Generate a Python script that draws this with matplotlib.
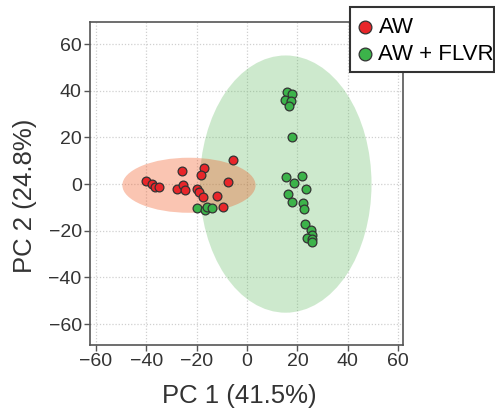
#PCA score plot: AW vs AW + FLVR with group ellipses.

import matplotlib
matplotlib.use("Agg")
import matplotlib.pyplot as plt
from matplotlib.patches import Ellipse, Rectangle

#Font settings.
plt.rcParams['font.family'] = ['Liberation Sans', 'DejaVu Sans']

#Scores for the AW group (PC1, PC2).
aw_pc1 = [-40.3, -37.7, -36.6, -35.0, -25.8, -27.8, -25.4, -24.6, -17.2,
          -18.5, -19.8, -19.2, -17.5, -11.9, -9.5, -7.7, -5.8]
aw_pc2 = [1.4, -0.1, -1.1, -1.4, 5.6, -1.9, -0.4, -2.4, 7.0,
          4.0, -2.3, -3.6, -5.7, -5.3, -9.9, 0.7, 10.4]

#Scores for the AW + FLVR group (PC1, PC2).
flvr_pc1 = [15.9, 17.7, 15.0, 17.3, 16.8, 18.0, 15.5, 21.6, 18.7, 23.4,
            16.3, 18.0, 22.1, 22.5, 23.0, 25.2, 25.6, 23.6, 25.6, 25.8,
            -20.1, -16.9, -15.9, -14.0]
flvr_pc2 = [39.5, 38.5, 36.0, 35.8, 33.3, 20.2, 3.0, 3.6, 0.4, -2.3,
            -4.4, -7.6, -7.9, -10.6, -17.3, -19.9, -21.9, -23.0, -23.6, -24.9,
            -10.2, -10.9, -9.7, -10.2]

#Ellipses: center x, center y, width, height.
aw_ell = [-23.1, -0.5, 52.9, 23.6]
flvr_ell = [15.3, 0.0, 68.2, 110.3]

ticks = [-60, -40, -20, 0, 20, 40, 60]
tick_labels = ["\u221260", "\u221240", "\u221220", "0", "20", "40", "60"]

fig = plt.figure(figsize=(4.95, 4.13), dpi=100)
ax = fig.add_axes([90/495, 1 - 345/413, 313/495, 323/413])

#Group ellipses.
ax.add_patch(Ellipse((flvr_ell[0], flvr_ell[1]), flvr_ell[2], flvr_ell[3],
                     facecolor='#5cb85c', alpha=0.3, edgecolor='none', zorder=1))
ax.add_patch(Ellipse((aw_ell[0], aw_ell[1]), aw_ell[2], aw_ell[3],
                     facecolor='#f15a24', alpha=0.35, edgecolor='none', zorder=1.5))

#Points.
ax.scatter(aw_pc1, aw_pc2, s=40, c='#e8262a', edgecolors='#333333',
           linewidths=0.9, zorder=3, label='AW')
ax.scatter(flvr_pc1, flvr_pc2, s=40, c='#3cb34a', edgecolors='#333333',
           linewidths=0.9, zorder=3, label='AW + FLVR')

#Axes limits and ticks.
ax.set_xlim(-62.4, 61.9)
ax.set_ylim(-69, 69.5)
ax.set_xticks(ticks)
ax.set_xticklabels(tick_labels)
ax.set_yticks(ticks)
ax.set_yticklabels(tick_labels)
ax.tick_params(direction='out', length=4, width=1, color='#555555',
               labelsize=14, labelcolor='#333333', pad=2)
for sp in ax.spines.values():
    sp.set_color('#555555')
    sp.set_linewidth(1.2)

#Grid.
ax.grid(True, linestyle=(0, (1, 1.5)), color='#d0d0d0', linewidth=0.9)
ax.set_axisbelow(True)

#Axis labels, placed as in the original figure.
fig.text(239.5/495, 1 - 396.5/413, "PC 1 (41.5%)", fontsize=18.5,
         color='#333333', ha='center', va='center')
fig.text(25.5/495, 1 - 195.5/413, "PC 2 (24.8%)", fontsize=18.5,
         color='#333333', ha='center', va='center', rotation=90)

#Legend box (drawn by hand so the padding is uneven like the original).
box = Rectangle((350/495, 1 - 72/413), 144/495, 65/413, transform=fig.transFigure,
                facecolor='white', edgecolor='#333333', linewidth=1.5, zorder=4)
fig.patches.append(box)

handles, labels = ax.get_legend_handles_labels()
leg = fig.legend(handles, labels, loc='upper left',
                 bbox_to_anchor=(358.5/495, 1 - 17/413), fontsize=16,
                 frameon=False, handletextpad=0.3, borderpad=0,
                 labelspacing=0.28, handlelength=0.6, borderaxespad=0,
                 markerscale=1.45)
leg.set_zorder(5)

plt.savefig("out.png", dpi=100)
